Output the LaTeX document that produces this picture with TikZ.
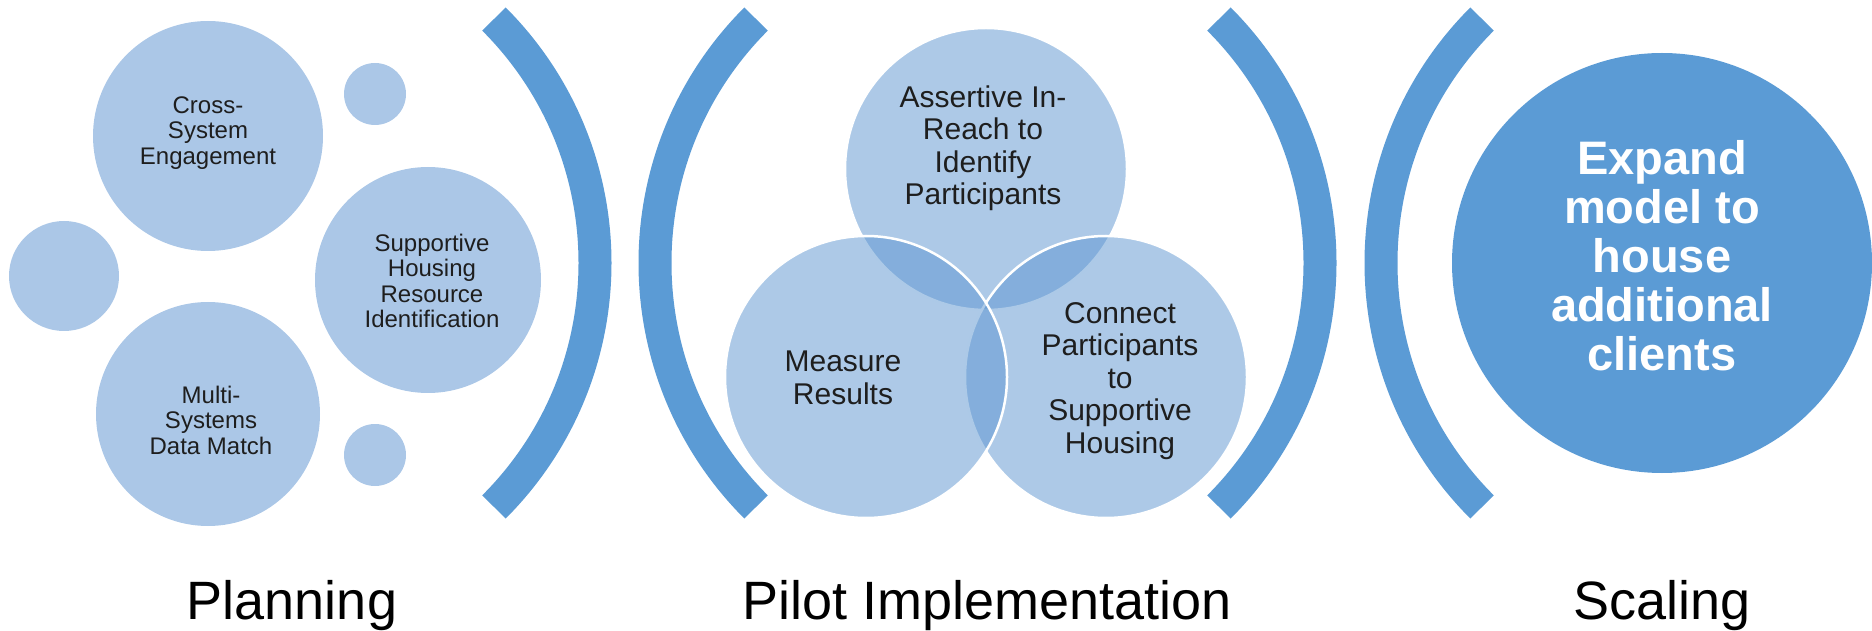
\documentclass[tikz,border=0pt]{standalone}
\usepackage{fontspec}
\setmainfont{Liberation Sans}
\definecolor{arcblue}{HTML}{5B9BD5}
\definecolor{bubblefill}{RGB}{171,199,231}
\definecolor{vennblue}{HTML}{5B94D0}
\definecolor{textdark}{HTML}{1E1E1E}
\begin{document}
\begin{tikzpicture}[x=1pt,y=1pt,
  bubble/.style={circle, inner sep=0pt, outer sep=0pt, fill=bubblefill, draw=none},
  venn/.style={circle, inner sep=0pt, outer sep=0pt, minimum size=282pt,
    fill=vennblue, fill opacity=0.5, draw=white, draw opacity=1, line width=2.5pt},
  smalltext/.style={align=center, text=textdark, inner sep=0pt,
    font=\fontsize{24}{25.5}\selectfont},
  venntext/.style={align=center, text=textdark, inner sep=0pt,
    font=\fontsize{30}{32.5}\selectfont},
  bigtext/.style={align=center, text=white, inner sep=0pt,
    font=\bfseries\fontsize{47}{49}\selectfont},
  phase/.style={anchor=base, text=black, inner sep=0pt,
    font=\fontsize{54}{60}\selectfont},
  bracket/.style={draw=arcblue, line width=33pt}
]
\useasboundingbox (0,0) rectangle (1872,630);

% ---- Planning: cluster of bubbles ----
\node[bubble, minimum size=230pt] (cross) at (208,494) {};
\node[bubble, minimum size=226pt] (supp)  at (428,350) {};
\node[bubble, minimum size=224pt] (multi) at (208,216) {};
\node[bubble, minimum size=62pt]  (dottop) at (375,536) {};
\node[bubble, minimum size=62pt]  (dotbot) at (375,175) {};
\node[bubble, minimum size=110pt] (dotleft) at (64,354) {};

\node[smalltext] (crosst) at (208,497) {Cross-\\System\\Engagement};
\node[smalltext] (suppt)  at (432,349) {Supportive\\Housing\\Resource\\Identification};
\node[smalltext] (multit) at (211,210) {Multi-\\Systems\\Data Match};

% ---- brackets between the phases ----
\coordinate (c1) at (250,367);
\coordinate (c2) at (1000,367);
\coordinate (c3) at (975,367);
\coordinate (c4) at (1726,367);
\draw[bracket] (c1) ++(-45:345pt) arc[start angle=-45, end angle=45, radius=345pt];
\draw[bracket] (c2) ++(135:345pt) arc[start angle=135, end angle=225, radius=345pt];
\draw[bracket] (c3) ++(-45:345pt) arc[start angle=-45, end angle=45, radius=345pt];
\draw[bracket] (c4) ++(135:345pt) arc[start angle=135, end angle=225, radius=345pt];

% ---- Pilot implementation: three-set Venn ----
\node[venn] (reach)   at (986,461) {};
\node[venn] (connect) at (1106,253) {};
\node[venn] (measure) at (866,253) {};

\node[venntext] (reacht)   at (983,482) {Assertive In-\\Reach to\\Identify\\Participants};
\node[venntext] (measuret) at (843,252) {Measure\\Results};
\node[venntext] (connectt) at (1120,249) {Connect\\Participants\\to\\Supportive\\Housing};

% ---- Scaling ----
\node[circle, inner sep=0pt, outer sep=0pt, minimum size=420pt, fill=arcblue] (expand) at (1662,367) {};
\node[bigtext] (expandt) at (1662,374) {Expand\\model to\\house\\additional\\clients};

% ---- phase captions ----
\node[phase] (planning) at (292,11) {Planning};
\node[phase] (pilot)    at (987,11) {Pilot Implementation};
\node[phase] (scaling)  at (1662,11) {Scaling};
\end{tikzpicture}
\end{document}
